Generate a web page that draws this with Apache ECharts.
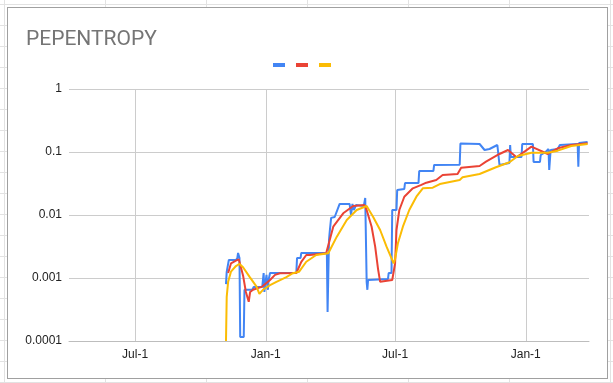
<!DOCTYPE html>
<html>
<head>
<meta charset="utf-8">
<script src="https://cdn.jsdelivr.net/npm/echarts@6/dist/echarts.min.js"></script>
<style>
  html, body { margin: 0; padding: 0; }
  body {
    width: 613px; height: 383px; overflow: hidden; position: relative;
    background-color: #fff;
    background-image: linear-gradient(to right, #e2e2e2 1px, transparent 1px),
                      linear-gradient(to bottom, #e2e2e2 1px, transparent 1px);
    background-size: 101px 21px;
    background-position: 4px 4px;
  }
  #frame {
    position: absolute; left: 7px; top: 7px; width: 599px; height: 370px;
    border: 1px solid #a0a0a0; background: #fff;
  }
  #main { position: absolute; left: 0; top: 0; width: 613px; height: 383px; }
</style>
</head>
<body>
<div id="frame"></div>
<div id="main"></div>
<script>
// blue line
var entropyData = [
  ['2023-11-06', 0.0008], ['2023-11-07', 0.00125], ['2023-11-09', 0.00125],
  ['2023-11-10', 0.00193], ['2023-11-20', 0.00193], ['2023-11-22', 0.00208],
  ['2023-11-23', 0.0025], ['2023-11-25', 0.00208], ['2023-11-26', 0.000116],
  ['2023-12-01', 0.000116], ['2023-12-02', 0.00065], ['2023-12-13', 0.00065],
  ['2023-12-15', 0.00072], ['2023-12-27', 0.00072], ['2023-12-29', 0.0012],
  ['2023-12-30', 0.0006], ['2024-01-02', 0.00112], ['2024-01-04', 0.00065],
  ['2024-01-05', 0.00093], ['2024-01-07', 0.0012], ['2024-02-13', 0.0012],
  ['2024-02-14', 0.00208], ['2024-02-19', 0.00208], ['2024-02-20', 0.0025],
  ['2024-03-27', 0.0025], ['2024-03-28', 0.00029], ['2024-03-30', 0.004],
  ['2024-03-31', 0.0054], ['2024-04-02', 0.009], ['2024-04-07', 0.0093],
  ['2024-04-14', 0.015], ['2024-04-28', 0.015], ['2024-04-30', 0.01],
  ['2024-05-02', 0.015], ['2024-05-04', 0.012], ['2024-05-07', 0.0144],
  ['2024-05-18', 0.0139], ['2024-05-20', 0.0186], ['2024-05-22', 0.00087],
  ['2024-05-23', 0.00065], ['2024-05-24', 0.00093], ['2024-06-21', 0.00096],
  ['2024-06-22', 0.0012], ['2024-06-26', 0.0012], ['2024-06-27', 0.012],
  ['2024-07-03', 0.012], ['2024-07-04', 0.0249], ['2024-07-14', 0.0259],
  ['2024-07-15', 0.0322], ['2024-08-03', 0.0322], ['2024-08-04', 0.05],
  ['2024-08-24', 0.05], ['2024-08-25', 0.0622], ['2024-09-30', 0.063],
  ['2024-10-01', 0.1365], ['2024-10-28', 0.134], ['2024-11-04', 0.1076],
  ['2024-11-11', 0.1116], ['2024-11-22', 0.1292], ['2024-11-25', 0.0622],
  ['2024-12-09', 0.0669], ['2024-12-10', 0.1292], ['2024-12-11', 0.0833],
  ['2024-12-26', 0.0833], ['2024-12-27', 0.134], ['2025-01-11', 0.134],
  ['2025-01-12', 0.0694], ['2025-01-21', 0.0694], ['2025-01-22', 0.0896],
  ['2025-01-29', 0.1], ['2025-02-02', 0.1116], ['2025-02-03', 0.0518],
  ['2025-02-05', 0.1076], ['2025-02-15', 0.1116], ['2025-02-18', 0.1292],
  ['2025-03-15', 0.134], ['2025-03-16', 0.0585], ['2025-03-17', 0.139],
  ['2025-03-29', 0.144]
];

// red line
var fastData = [
  ['2023-11-09', 0.0012], ['2023-11-13', 0.0017], ['2023-11-20', 0.00188],
  ['2023-11-24', 0.00198], ['2023-11-30', 0.0011], ['2023-12-04', 0.0006],
  ['2023-12-08', 0.00042], ['2023-12-10', 0.0006], ['2023-12-14', 0.00065],
  ['2023-12-27', 0.00073], ['2024-01-07', 0.00093], ['2024-01-14', 0.00112],
  ['2024-01-21', 0.00119], ['2024-02-13', 0.0012], ['2024-02-20', 0.0018],
  ['2024-02-27', 0.00232], ['2024-03-03', 0.00232], ['2024-03-26', 0.00247],
  ['2024-04-05', 0.00652], ['2024-04-19', 0.01064], ['2024-05-03', 0.0139],
  ['2024-05-19', 0.0144], ['2024-05-22', 0.012], ['2024-05-29', 0.00652],
  ['2024-06-03', 0.00314], ['2024-06-07', 0.0014], ['2024-06-10', 0.00087],
  ['2024-06-27', 0.00093], ['2024-06-29', 0.00099], ['2024-07-01', 0.0017],
  ['2024-07-03', 0.00578], ['2024-07-07', 0.012], ['2024-07-14', 0.0195],
  ['2024-07-26', 0.0265], ['2024-08-07', 0.03], ['2024-08-14', 0.0326],
  ['2024-08-28', 0.036], ['2024-09-06', 0.0431], ['2024-09-27', 0.0447],
  ['2024-10-02', 0.0563], ['2024-10-28', 0.06], ['2024-11-06', 0.0702],
  ['2024-11-25', 0.093], ['2024-12-07', 0.1076], ['2024-12-19', 0.0824],
  ['2025-01-09', 0.1215], ['2025-02-01', 0.093], ['2025-02-15', 0.1145],
  ['2025-03-06', 0.1292], ['2025-03-29', 0.1375]
];

// yellow line
var slowData = [
  ['2023-11-06', 0.0001], ['2023-11-07', 0.0005], ['2023-11-09', 0.00087],
  ['2023-11-11', 0.00105], ['2023-11-13', 0.00126], ['2023-11-20', 0.00155],
  ['2023-11-25', 0.00167], ['2023-11-30', 0.00148], ['2023-12-09', 0.00105],
  ['2023-12-19', 0.00073], ['2023-12-23', 0.00056], ['2023-12-28', 0.00065],
  ['2024-01-07', 0.00077], ['2024-01-16', 0.00087], ['2024-01-30', 0.00103],
  ['2024-02-08', 0.00119], ['2024-02-17', 0.00126], ['2024-02-27', 0.00181],
  ['2024-03-12', 0.00232], ['2024-03-29', 0.00247], ['2024-04-10', 0.00453],
  ['2024-04-24', 0.00834], ['2024-05-08', 0.012], ['2024-05-22', 0.0139],
  ['2024-05-31', 0.0094], ['2024-06-10', 0.00578], ['2024-06-19', 0.00314],
  ['2024-06-29', 0.00171], ['2024-07-01', 0.002], ['2024-07-05', 0.00356],
  ['2024-07-12', 0.00652], ['2024-07-21', 0.012], ['2024-07-31', 0.0195],
  ['2024-08-09', 0.0265], ['2024-08-23', 0.0271], ['2024-09-02', 0.031],
  ['2024-09-30', 0.036], ['2024-10-04', 0.0397], ['2024-10-28', 0.0447],
  ['2024-11-20', 0.0572], ['2024-12-09', 0.0687], ['2024-12-21', 0.0864],
  ['2025-01-09', 0.0975], ['2025-02-01', 0.0975], ['2025-02-15', 0.105],
  ['2025-03-06', 0.1245], ['2025-03-29', 0.134]
];

var xTicks = ['2023-07-01', '2024-01-01', '2024-07-01', '2025-01-01'];
var seriesNames = ['PEPENTROPY', 'fast', 'slow'];
var colors = ['#4285F4', '#EA4335', '#FBBC04'];

// 'YYYY-MM-DD' -> local timestamp
function toTime(s) {
  var p = s.split('-');
  return new Date(+p[0], +p[1] - 1, +p[2]).getTime();
}
function toPoints(arr) {
  return arr.map(function (d) { return [toTime(d[0]), d[1]]; });
}

var chart = echarts.init(document.getElementById('main'));

var option = {
  animation: false,
  color: colors,
  title: {
    text: 'PEPENTROPY',
    left: 21,
    top: 24,
    textStyle: {
      color: '#757575',
      fontSize: 21,
      fontWeight: 'normal',
      fontFamily: 'Roboto'
    }
  },
  legend: {
    left: 268,
    top: 58,
    icon: 'rect',
    itemWidth: 12,
    itemHeight: 4,
    itemGap: 11,
    formatter: function () { return ''; },
    data: seriesNames
  },
  grid: {
    left: 69,
    right: 24,
    top: 89,
    bottom: 42
  },
  xAxis: {
    type: 'value',
    min: toTime('2023-03-30'),
    max: toTime('2025-03-31'),
    axisLine: { show: true, lineStyle: { color: '#bdbdbd' } },
    axisTick: { show: false, customValues: xTicks.map(toTime) },
    splitLine: { show: true, lineStyle: { color: '#cccccc' } },
    axisLabel: {
      customValues: xTicks.map(toTime),
      color: '#222',
      fontSize: 12,
      fontFamily: 'Liberation Sans',
      margin: 8,
      formatter: function (v) {
        var d = new Date(v);
        return (d.getMonth() === 6 ? 'Jul' : 'Jan') + '-1';
      }
    }
  },
  yAxis: {
    type: 'log',
    logBase: 10,
    min: 0.0001,
    max: 1,
    axisLine: { show: false },
    axisTick: { show: false },
    splitLine: { show: true, lineStyle: { color: '#cccccc' } },
    axisLabel: {
      color: '#222',
      fontSize: 12,
      fontFamily: 'Liberation Sans',
      margin: 7,
      formatter: function (v) { return String(+(+v).toPrecision(1)); }
    }
  },
  series: [
    {
      name: seriesNames[0],
      type: 'line',
      data: toPoints(entropyData),
      showSymbol: false,
      lineStyle: { width: 2 }
    },
    {
      name: seriesNames[1],
      type: 'line',
      data: toPoints(fastData),
      showSymbol: false,
      lineStyle: { width: 2 }
    },
    {
      name: seriesNames[2],
      type: 'line',
      data: toPoints(slowData),
      showSymbol: false,
      lineStyle: { width: 2 }
    }
  ]
};

chart.setOption(option);
</script>
</body>
</html>
